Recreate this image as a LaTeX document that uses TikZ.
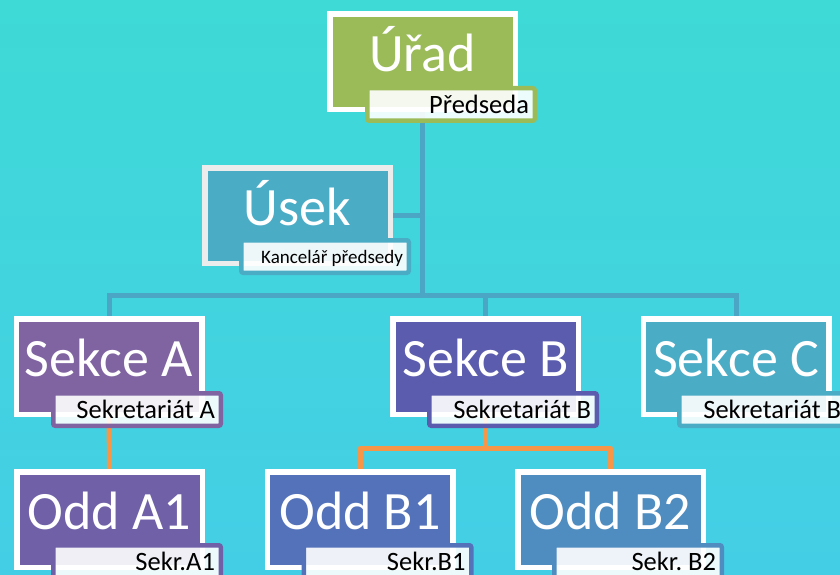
\documentclass[tikz,border=0pt]{standalone}
\usepackage{fontspec}
\setmainfont{Carlito}
\definecolor{bgtop}{RGB}{62,218,214}
\definecolor{bgmid}{RGB}{82,222,232}
\definecolor{bgbot}{RGB}{68,206,230}
\definecolor{cgreen}{RGB}{155,187,89}
\definecolor{cteal}{RGB}{75,172,198}
\definecolor{cpurpA}{RGB}{128,100,162}
\definecolor{cpurpB}{RGB}{91,92,174}
\definecolor{coddA}{RGB}{111,96,168}
\definecolor{coddB}{RGB}{83,114,186}
\definecolor{coddBB}{RGB}{79,140,192}
\definecolor{clink}{RGB}{74,166,196}
\definecolor{corange}{RGB}{247,150,70}
\definecolor{cframe}{RGB}{236,236,236}
\pgfdeclarelayer{bglayer}
\pgfdeclarelayer{linklayer}
\pgfsetlayers{bglayer,linklayer,main}
\newcommand{\labtext}[1]{\makebox[156pt][r]{\frenchspacing #1}}
\begin{document}
\begin{tikzpicture}[x=1pt,y=-1pt,
  box/.style={rectangle, draw=white, fill=#1, line width=5.5pt, minimum width=185.5pt, minimum height=95.5pt, inner sep=0pt, text=white, font=\fontsize{54}{60}\selectfont, text height=38pt, text depth=19pt},
  lab/.style={rectangle, draw=#1, fill=white, fill opacity=0.9, text opacity=1, line width=4.5pt, rounded corners=2pt, minimum height=32.5pt, inner xsep=5.75pt, inner ysep=0pt, font=\fontsize{26.5}{29}\selectfont, text height=19.5pt, text depth=2pt},
  smalllab/.style={font=\fontsize{19}{22}\selectfont, text height=15pt, text depth=2pt},
  bluelink/.style={draw=clink, line width=5pt},
  orangelink/.style={draw=corange, line width=5pt, line join=round}]
\useasboundingbox (0,0) rectangle (840,575);
\clip (0,0) rectangle (840,575);
\begin{pgfonlayer}{bglayer}
\shade[top color=bgtop, middle color=bgmid, bottom color=bgbot] (0,0) rectangle (840,575);
\end{pgfonlayer}

\coordinate (bus) at (422.5,295);
\coordinate (obus) at (485.5,448);

% boxes
\node[box=cgreen] (urad) at (422.5,62) {Úřad};
\node[box=cteal, draw=cframe] (usek) at (297.5,215.5) {Úsek};
\node[box=cpurpA] (sekA) at (109,366.5) {Sekce A};
\node[box=cpurpB] (sekB) at (485.5,366.5) {Sekce B};
\node[box=cteal] (sekC) at (736,366.5) {Sekce C};
\node[box=coddA] (oddA) at (109.5,519.5) {Odd A1};
\node[box=coddB] (oddB) at (360,519.5) {Odd B1};
\node[box=coddBB] (oddBB) at (610.5,519.5) {Odd B2};

% labels
\node[lab=cgreen] (uradL) at (451,104.5) {\labtext{Předseda}};
\node[lab=cteal, smalllab, inner xsep=3pt, minimum width=167.5pt] (usekL) at (325,256.5) {\labtext{Kancelář předsedy}};
\node[lab=cpurpA] (sekAL) at (137,409.5) {\labtext{Sekretariát A}};
\node[lab=cpurpB] (sekBL) at (513,409.5) {\labtext{Sekretariát B}};
\node[lab=cteal] (sekCL) at (763,409.5) {\labtext{Sekretariát B}};
\node[lab=coddA] (oddAL) at (137,561.5) {\labtext{Sekr.A1}};
\node[lab=coddB] (oddBL) at (387.5,561.5) {\labtext{Sekr.B1}};
\node[lab=coddBB] (oddBBL) at (638,561.5) {\labtext{Sekr. B2}};

% connectors
\begin{pgfonlayer}{linklayer}
\draw[bluelink] (urad.south) -- (bus);
\draw[bluelink] (usek.east) -- (usek.east -| urad.south);
\draw[bluelink] (sekA.north) -- (sekA.north |- bus) -- (sekC.north |- bus) -- (sekC.north);
\draw[bluelink] (sekB.north) -- (sekB.north |- bus);
\draw[orangelink] (sekA.south) -- (oddA.north);
\draw[orangelink] (sekB.south) -- (obus);
\draw[orangelink] (oddB.north) -- (oddB.north |- obus) -- (oddBB.north |- obus) -- (oddBB.north);
\end{pgfonlayer}
\end{tikzpicture}
\end{document}
